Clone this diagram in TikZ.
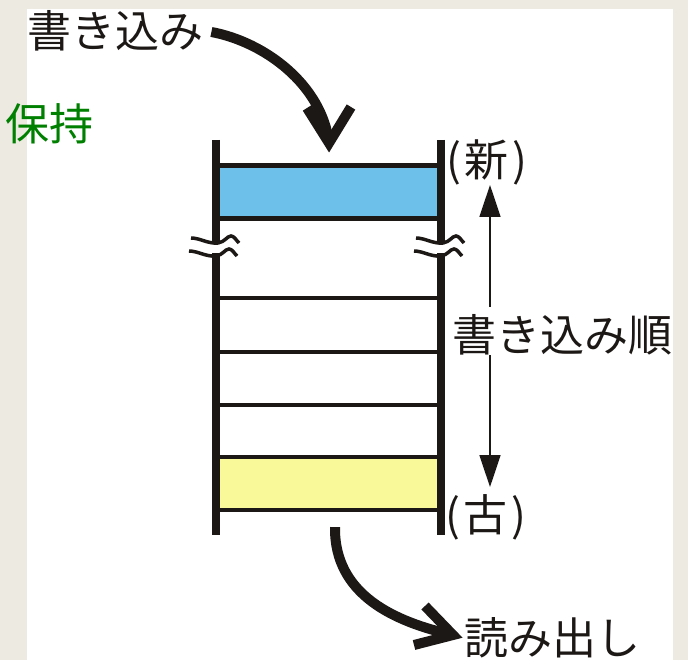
\documentclass[tikz,border=0pt]{standalone}
\usepackage{fontspec}
\setmainfont{Noto Sans CJK JP}
\usetikzlibrary{arrows.meta}
\definecolor{bgbeige}{RGB}{237,234,225}
\definecolor{ink}{RGB}{28,24,22}
\definecolor{cellblue}{RGB}{108,192,234}
\definecolor{cellyellow}{RGB}{250,249,154}
\definecolor{holdgreen}{RGB}{0,128,0}
\tikzset{
  lbl/.style={font=\fontsize{44}{44}\selectfont, text=ink, inner sep=0pt},
  rail/.style={draw=ink, line width=7.5pt},
  divider/.style={draw=ink, line width=4.5pt},
  wave/.style={draw=ink, line width=3.5pt},
  bigarrow/.style={draw=ink, line width=10pt},
  chevron/.style={draw=ink, line width=10pt, line join=miter},
  orderarrow/.style={draw=ink, line width=1.5pt, -{Triangle[length=32pt,width=21pt]}},
}
\begin{document}
\begin{tikzpicture}[x=1pt,y=-1pt]
\fill[bgbeige] (0,0) rectangle (688,660);
\fill[white] (27,9) rectangle (673,660);
\useasboundingbox (0,0) rectangle (688,660);

% cells
\fill[cellblue] (216,165.5) rectangle (441,218.5);
\fill[cellyellow] (216,457) rectangle (441,510);
\foreach \yy in {165.5,218.5,298,352,405,457,510}
  \draw[divider] (216,\yy) -- (441,\yy);

% rails with break marks
\foreach \xs in {0,225}{
  \begin{scope}[shift={(\xs,0)}]
    \draw[rail] (216,140) -- (216,243);
    \draw[rail] (216,253) -- (216,535);
    \draw[wave] (191,238) .. controls (200,238) and (208,244) .. (218,243)
       .. controls (225,242) and (227,236) .. (231,236)
       .. controls (234,236) and (236,240) .. (239,243);
    \draw[wave] (189,251) .. controls (198,251) and (206,257) .. (216,256)
       .. controls (223,255) and (225,249) .. (229,249)
       .. controls (232,249) and (234,253) .. (237,256);
  \end{scope}
}

% labels
\node[lbl, anchor=west] (write) at (27,31) {書き込み};
\node[lbl, anchor=west, text=holdgreen] (hold) at (5,124) {保持};
\node[lbl] (newlbl) at (487,162) {(\kern4pt 新\kern4pt )};
\node[lbl] (oldlbl) at (486,517) {(\kern4pt 古\kern4pt )};
\node[lbl] (order) at (562,335) {書き込み順};
\node[lbl, anchor=west] (read) at (464,638) {読み出し};

% write arrow
\coordinate (wtip) at (329,143);
\draw[bigarrow] ([xshift=8pt,yshift=-1pt]write.east) .. controls (265,42) and (322,85) .. (wtip);
\draw[chevron] (307,108) -- (wtip) -- (351,107);

% read arrow
\coordinate (rstart) at (335,527);
\coordinate (rtip) at (453,635);
\draw[bigarrow] (rstart) .. controls (334,595) and (395,622) .. (rtip);
\draw[chevron] (425,606) -- (rtip) -- (414,645);

% order arrows
\coordinate (ordtop) at (490,307);
\coordinate (ordbot) at (490,355);
\coordinate (newtip) at (490,185);
\coordinate (oldtip) at (490,487);
\draw[orderarrow] (ordtop) -- (newtip);
\draw[orderarrow] (ordbot) -- (oldtip);
\end{tikzpicture}
\end{document}
